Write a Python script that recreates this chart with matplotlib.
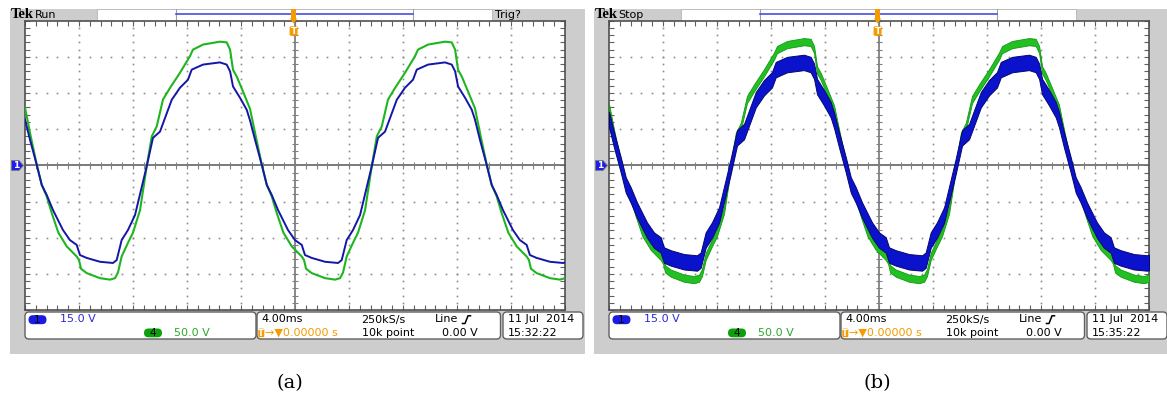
"""
Two Tek oscilloscope captures (run / stop) of the line voltage, ch1 and ch4.
"""

import numpy as np
import matplotlib.pyplot as plt
from matplotlib.patches import Rectangle, FancyBboxPatch, Polygon

# time in ms, channel 4 (green) in volts
t_ch4 = [0.00, 0.37, 0.87, 1.24, 1.61, 1.98, 2.47, 3.09, 3.83, 4.00, 4.15, 4.57,
         5.56, 6.30, 6.67, 6.89, 7.16, 7.63, 8.00, 8.52, 9.01, 9.39, 9.76, 10.22,
         10.74, 11.48, 12.22, 12.44, 13.19, 14.44, 14.94, 15.19, 15.41, 15.68, 16.15,
         16.67, 17.04, 17.54, 17.91, 18.28, 18.65, 19.14, 19.76, 20.50, 20.67, 20.82,
         21.24, 22.23, 22.97, 23.34, 23.56, 23.83, 24.30, 24.67, 25.19, 25.68, 26.06,
         26.43, 26.89, 27.41, 28.15, 28.89, 29.11, 29.86, 31.11, 31.61, 31.86, 32.08,
         32.35, 32.82,
         33.33, 33.70, 34.20, 34.57, 34.94, 35.31, 35.80, 36.42, 37.16, 37.33, 37.48,
         37.90, 38.89, 39.63, 40.00]
v_ch4 = [80, 45, 1, -27, -43, -66, -93, -112, -126, -131, -143, -149,
         -156, -158, -156, -148, -126, -107, -93, -62, -2, 40, 54, 91,
         107, 128, 151, 160, 167, 171, 170, 160, 132, 123, 102,
         78, 45, 1, -27, -43, -66, -93, -112, -126, -131, -143,
         -149, -156, -158, -156, -148, -126, -107, -93, -62, -2, 40,
         54, 91, 107, 128, 151, 160, 167, 171, 170, 160, 132,
         123, 102,
         79, 45, 1, -27, -43, -66, -93, -112, -126, -131, -143,
         -149, -156, -158, -156]

# time in ms, channel 1 (blue) in volts
t_ch1 = [0.00, 0.37, 0.87, 1.24, 1.61, 2.07, 2.81, 3.33, 3.83, 4.07, 4.57, 5.56,
         6.52, 6.79, 7.16, 7.63, 8.15, 9.01, 9.48, 10.00, 10.87, 11.48, 12.07, 12.35,
         13.19, 14.44, 14.94, 15.19, 15.41, 15.93, 16.42,
         16.67, 17.04, 17.54, 17.91, 18.28, 18.74, 19.48, 20.00, 20.50, 20.74, 21.24,
         22.23, 23.19, 23.46, 23.83, 24.30, 24.82, 25.68, 26.15, 26.67, 27.54, 28.15,
         28.74, 29.02, 29.86, 31.11, 31.61, 31.86, 32.08, 32.60, 33.09,
         33.33, 33.70, 34.20, 34.57, 34.94, 35.40, 36.14, 36.66, 37.16, 37.40, 37.90,
         38.89, 39.85, 40.00]
v_ch1 = [19.0, 10.6, 0.2, -8.1, -12.3, -18.5, -26.8, -31.0, -33.0, -37.2, -38.4, -40.0,
         -40.5, -39.3, -31.0, -26.8, -20.6, -0.5, 11.4, 14.0, 27.2, 32.2, 35.5, 39.7,
         41.8, 42.7, 41.8, 39.0, 32.7, 28.0, 23.1,
         18.6, 10.6, 0.2, -8.1, -12.3, -18.5, -26.8, -31.0, -33.0, -37.2, -38.4,
         -40.0, -40.5, -39.3, -31.0, -26.8, -20.6, -0.5, 11.4, 14.0, 27.2, 32.2,
         35.5, 39.7, 41.8, 42.7, 41.8, 39.0, 32.7, 28.0, 23.1,
         19.0, 10.6, 0.2, -8.1, -12.3, -18.5, -26.8, -31.0, -33.0, -37.2, -38.4,
         -40.0, -40.5, -40.3]

# ripple half-width (V) seen on the stopped capture
ripple_ch4 = 5.0
ripple_ch1 = 3.2

vdiv_ch1 = 15.0
vdiv_ch4 = 50.0
states = ["Run", "Stop"]
clocks = ["15:32:22", "15:35:22"]
captions = ["(a)", "(b)"]

W, H = 1167, 398
GREEN = "#1fb51f"
BLUE = "#1515a8"
ORANGE = "#f59b00"
GRAY = "#cdcdcd"

fig = plt.figure(figsize=(W / 100, H / 100), dpi=100)
bg = fig.add_axes([0, 0, 1, 1])
bg.set_xlim(0, W)
bg.set_ylim(H, 0)
bg.axis("off")


def rounded(ax, x0, y0, x1, y1, r, fc, ec, lw=1.0):
    ax.add_patch(FancyBboxPatch((x0, y0), x1 - x0, y1 - y0,
                                boxstyle=f"round,pad=0,rounding_size={r}",
                                fc=fc, ec=ec, lw=lw))


def graticule(ax):
    ax.set_xlim(0, 40)
    ax.set_ylim(-4, 4)
    ax.set_xticks(np.arange(0, 40.01, 0.8))
    ax.set_yticks(np.arange(-4, 4.01, 0.2))
    ax.tick_params(direction="in", length=3.5, width=0.8, color="#606060",
                   top=True, right=True, labelbottom=False, labelleft=False)
    for s in ax.spines.values():
        s.set_color("#505050")
        s.set_linewidth(1.2)

    yy = np.arange(-4, 4.01, 0.2)
    xx = np.arange(0, 40.01, 0.8)
    gx = np.array([4, 8, 12, 16, 24, 28, 32, 36])
    gy = np.array([-3, -2, -1, 1, 2, 3])
    X, Y = np.meshgrid(gx, yy)
    ax.plot(X.ravel(), Y.ravel(), ls="none", marker="s", ms=1.2, mew=0, color="#8c8c8c")
    X, Y = np.meshgrid(xx, gy)
    ax.plot(X.ravel(), Y.ravel(), ls="none", marker="s", ms=1.2, mew=0, color="#8c8c8c")

    ax.axvline(20, color="#808080", lw=1.3)
    ax.axhline(0, color="#707070", lw=1.3)
    ax.vlines(xx, -0.09, 0.09, color="#808080", lw=0.8)
    ax.hlines(yy, 20 - 0.22, 20 + 0.22, color="#808080", lw=0.8)


axes = []
for i, off in enumerate([0, 584]):
    # screen frame
    bg.add_patch(Rectangle((10 + off, 9), 575, 345, fc=GRAY, ec="none"))
    bg.add_patch(Rectangle((97 + off, 9), 395, 11.7, fc="white", ec="#b4b4b4", lw=0.6))
    bg.plot([176 + off, 176 + off], [9, 20.7], color="#a0a0a0", lw=0.8)
    bg.plot([413 + off, 413 + off], [9, 20.7], color="#a0a0a0", lw=0.8)
    bg.plot([176 + off, 413 + off], [14.3, 14.3], color="#4a4ae6", lw=1.2)
    bg.text(10.5 + off, 15, "Tek", family="Liberation Serif", weight="bold", fontsize=10.5,
            ha="left", va="center", color="black")
    bg.text(34.5 + off, 15, states[i], fontsize=8, ha="left", va="center")
    if i == 0:
        bg.text(495 + off, 15, "Trig?", fontsize=8, ha="left", va="center")

    # readout boxes
    rounded(bg, 25 + off, 312, 256 + off, 339, 4, "white", "#606060")
    rounded(bg, 257 + off, 312, 500.5 + off, 339, 4, "white", "#606060")
    rounded(bg, 503 + off, 312, 583 + off, 339, 4, "white", "#606060")

    rounded(bg, 28.5 + off, 315.2, 46.5 + off, 324.2, 4.5, "#1a1ae0", "none")
    bg.text(37.5 + off, 319.9, "1", fontsize=7.5, ha="center", va="center")
    bg.text(60 + off, 319.5, "15.0 V", fontsize=8, color="#2a2ad8", ha="left", va="center")
    rounded(bg, 144 + off, 328.5, 162 + off, 337.3, 4.4, "#0ca00c", "none")
    bg.text(153 + off, 333, "4", fontsize=7.5, ha="center", va="center")
    bg.text(174 + off, 332.8, "50.0 V", fontsize=8, color="#2ca82c", ha="left", va="center")

    bg.text(261 + off, 319.5, "4.00ms", fontsize=8, ha="left", va="center")
    bg.text(361.5 + off, 319.5, "250kS/s", fontsize=8, ha="left", va="center")
    bg.text(435 + off, 319.5, "Line", fontsize=8, ha="left", va="center")
    bg.plot(np.array([462.5, 465, 468, 470.5]) + off, [323.5, 323.5, 315.8, 315.8],
            color="black", lw=1.1)
    rounded(bg, 258.3 + off, 328.6, 264.3 + off, 337.2, 1, ORANGE, "none")
    bg.text(261.3 + off, 333, "T", fontsize=6, color="white", weight="bold",
            ha="center", va="center")
    bg.text(265 + off, 332.8, "\u2192\u25bc0.00000 s", fontsize=8, color=ORANGE,
            ha="left", va="center")
    bg.text(361.5 + off, 332.8, "10k point", fontsize=8, ha="left", va="center")
    bg.text(442 + off, 332.8, "0.00 V", fontsize=8, ha="left", va="center")

    bg.text(507.5 + off, 319.5, "11 Jul  2014", fontsize=8, ha="left", va="center")
    bg.text(507.5 + off, 332.8, clocks[i], fontsize=8, ha="left", va="center")

    bg.text(290 + off * 1.0065, 383, captions[i], family="DejaVu Serif", fontsize=14,
            ha="center", va="center")

    ax = fig.add_axes([(25 + off) / W, (H - 310) / H, 540 / W, 289.3 / H])
    ax.set_facecolor("white")
    graticule(ax)
    axes.append(ax)

ch1 = np.array(v_ch1) / vdiv_ch1
ch4 = np.array(v_ch4) / vdiv_ch4

# (a) running: clean traces
axes[0].plot(t_ch4, ch4, color=GREEN, lw=1.5, zorder=5)
axes[0].plot(t_ch1, ch1, color=BLUE, lw=1.4, zorder=6)

# (b) stopped: traces with switching ripple
r4 = ripple_ch4 / vdiv_ch4
r1 = ripple_ch1 / vdiv_ch1
axes[1].fill_between(t_ch4, ch4 - r4, ch4 + r4, color="#22c022", ec="#119911",
                     lw=0.6, zorder=5)
axes[1].fill_between(t_ch1, ch1 - r1, ch1 + r1, color="#0a12cc", ec="#06066e",
                     lw=0.7, zorder=6)

# markers drawn over the screens
ov = fig.add_axes([0, 0, 1, 1], facecolor="none")
ov.set_xlim(0, W)
ov.set_ylim(H, 0)
ov.axis("off")
for off in [0, 584]:
    ov.add_patch(Rectangle((291.3 + off, 9), 4.6, 9.5, fc=ORANGE, ec="none"))
    ov.add_patch(Polygon([[289.8 + off, 18.5], [297.4 + off, 18.5], [293.6 + off, 23.5]],
                         fc=ORANGE, ec="none"))
    rounded(ov, 289.6 + off, 26.3, 297.6 + off, 35.8, 1.5, ORANGE, "none")
    ov.text(293.6 + off, 31.3, "T", fontsize=6.5, color="white", weight="bold",
            ha="center", va="center")
    ov.add_patch(Polygon([[11.5 + off, 160.5], [19 + off, 160.5], [23.5 + off, 165.5],
                          [19 + off, 170.5], [11.5 + off, 170.5]],
                         fc="#1e1ee8", ec="#7a7a7a", lw=0.6))
    ov.text(16 + off, 165.7, "1", fontsize=6.5, color="white", weight="bold",
            ha="center", va="center")

fig.savefig("out.png", dpi=100)
